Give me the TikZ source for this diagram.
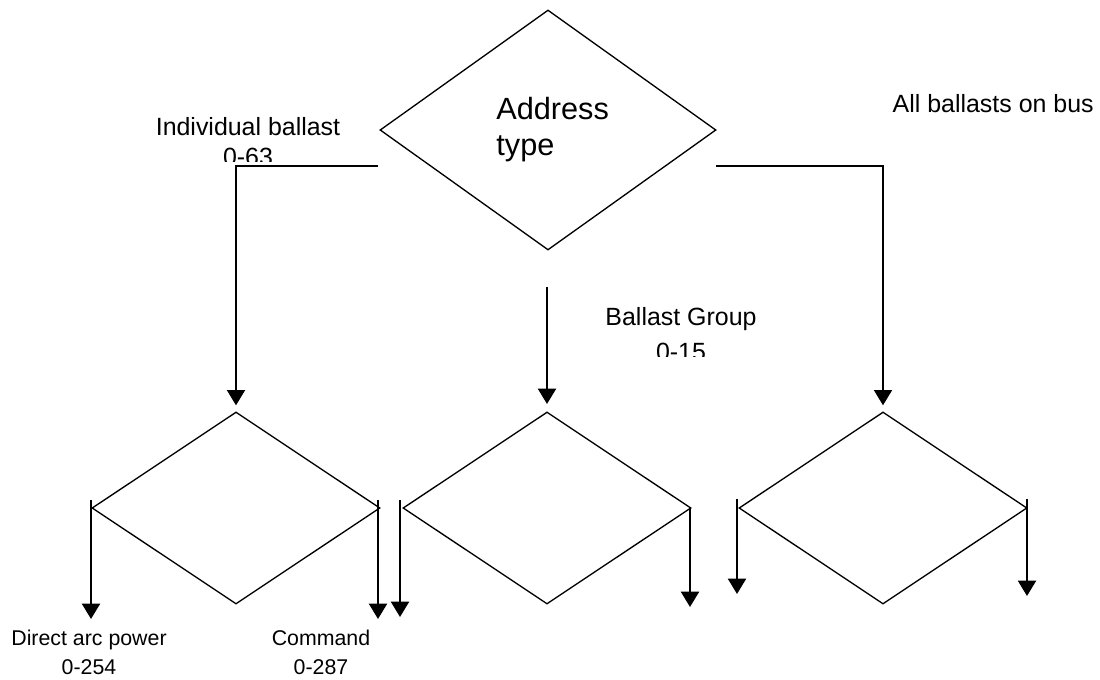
\documentclass[tikz,border=0pt]{standalone}
\usepackage{fontspec}
\setmainfont{Liberation Sans}
\usetikzlibrary{shapes.geometric,arrows.meta}

\tikzset{
	box/.style={diamond, draw, line width=1pt, inner sep=0pt, minimum width=216pt, minimum height=144pt},
	arr/.style={line width=1.5pt, -{Triangle[width=13.5pt,length=11.5pt]}},
	toplbl/.style={align=center, anchor=base, font=\fontsize{18.7}{22.5}\selectfont},
	botlbl/.style={align=center, anchor=base, font=\fontsize{16}{21.75}\selectfont}
}

\begin{document}
\begin{tikzpicture}[x=0.75pt, y=-0.75pt]
			\useasboundingbox (0,0) rectangle (1100,679);

			% Raute oben
			\node[box, minimum width=252pt, minimum height=180pt, align=left,
				font=\fontsize{23}{27}\selectfont] (type) at (548,130) {\hspace{7pt}Address\\\hspace{7pt}type};

			% Rauten unten
			\node[box] (indiv) at (236,508) {};
			\node[box] (group) at (547,508) {};
			\node[box] (all) at (883,508) {};

			% Anfangspunkte der Verbindungen
			\coordinate (tl) at (378,166);
			\coordinate (tr) at (716,166);
			\coordinate (tm) at (547,287);

			% Verbindungen zu den Rauten
			\draw[arr, shorten >=4.5pt] (tl) -| (indiv.north);
			\draw[arr, shorten >=4.5pt] (tr) -| (all.north);
			\draw[arr, shorten >=5.5pt] (tm) -- (group.north);

			% Pfeile nach unten
			\coordinate (a1) at (91,500);   \coordinate (b1) at (91,619);
			\coordinate (a2) at (378,500);  \coordinate (b2) at (378,619);
			\coordinate (a3) at (400,500);  \coordinate (b3) at (400,617);
			\coordinate (a4) at (690,508);  \coordinate (b4) at (690,607);
			\coordinate (a5) at (737,499);  \coordinate (b5) at (737,594);
			\coordinate (a6) at (1027,499); \coordinate (b6) at (1027,596);
			\foreach \i in {1,...,6}
				\draw[arr] (a\i) -- (b\i);

			% Beschriftungen oben (zweite Zeile abgeschnitten)
			\begin{scope}
				\clip (100,90) rectangle (400,161);
				\node[toplbl] (lindiv) at (248,165) {Individual ballast\\0-63};
			\end{scope}
			\begin{scope}
				\clip (560,290) rectangle (800,356);
				\node[toplbl, font=\fontsize{18.7}{26}\selectfont] (lgroup) at (681,360) {Ballast Group\\0-15};
			\end{scope}
			\node[toplbl, anchor=base west] (lall) at (888,112) {All ballasts on bus};

			% Beschriftungen unten
			\node[botlbl] (ldirect) at (89,674) {Direct arc power\\0-254};
			\node[botlbl] (lcmd) at (321,674) {Command\\0-287};

		\end{tikzpicture}
\end{document}
